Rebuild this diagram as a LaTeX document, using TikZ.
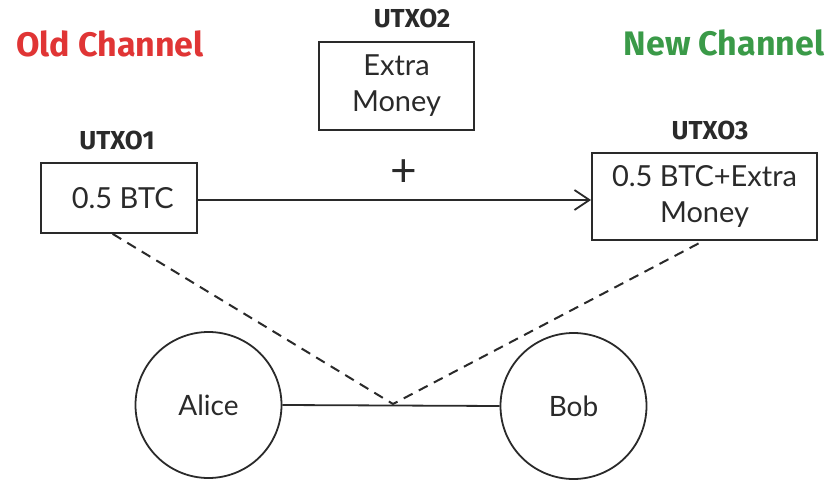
\documentclass[tikz,border=0pt]{standalone}
\usepackage{fontspec}
\setmainfont{Lato}
\newfontfamily\titlefont{Fira Sans}
\usetikzlibrary{arrows.meta,calc}
\definecolor{oldred}{HTML}{E03535}
\definecolor{newgreen}{HTML}{3A9A48}
\definecolor{ink}{HTML}{2A2A2A}
\tikzset{
  box/.style={draw=ink, line width=1.8pt, rectangle, inner sep=0pt, align=center, font=\fontsize{29}{36}\selectfont, text=ink},
  person/.style={draw=ink, line width=1.8pt, circle, minimum size=146pt, inner sep=0pt, font=\fontsize{28}{30}\selectfont, text=ink},
  utxo/.style={font=\titlefont\bfseries\fontsize{26}{28}\selectfont, text=ink},
  chan/.style={font=\titlefont\bfseries\fontsize{34}{36}\selectfont},
  link/.style={draw=ink, line width=1.8pt},
  dashlink/.style={draw=ink, line width=2pt, dash pattern=on 10pt off 7pt}
}
\begin{document}
\begin{tikzpicture}[x=1pt,y=-1pt]
\useasboundingbox (0,0) rectangle (838,489);
\node[chan, text=oldred] (oldc) at (110,44) {Old Channel};
\node[chan, text=newgreen] (newc) at (724,43) {New Channel};
\node[utxo] (u2) at (412,18) {UTXO2};
\node[utxo] (u1) at (117,140) {UTXO1};
\node[utxo] (u3) at (710,130) {UTXO3};
\node[box, minimum width=155pt, minimum height=88pt] (b2) at (396.5,86) {Extra\\Money};
\node[box, minimum width=156pt, minimum height=70pt] (b1) at (119,198) {\ 0.5 BTC};
\node[box, minimum width=225pt, minimum height=87pt] (b3) at (704.5,196.5) {0.5 BTC+Extra\\Money};
\node[font=\fontsize{46}{46}\selectfont, text=ink] (plus) at (404,173) {+};
\node[person] (alice) at (208.5,405) {Alice};
\node[person] (bob) at (573.5,406) {Bob};
\coordinate (meet) at (393,404);
\coordinate (d1) at ($(b1.south west)!0.46!(b1.south east)$);
\coordinate (d3) at ($(b3.south west)!0.495!(b3.south east)$);
\draw[link, -{Straight Barb[length=15pt,width=20pt,line width=1.8pt]}] (b1.east |- 0,200) -- (b3.west |- 0,200);
\draw[link] (alice.east) -- (bob.west);
\draw[dashlink] (d1) -- (meet) -- (d3);
\end{tikzpicture}
\end{document}
